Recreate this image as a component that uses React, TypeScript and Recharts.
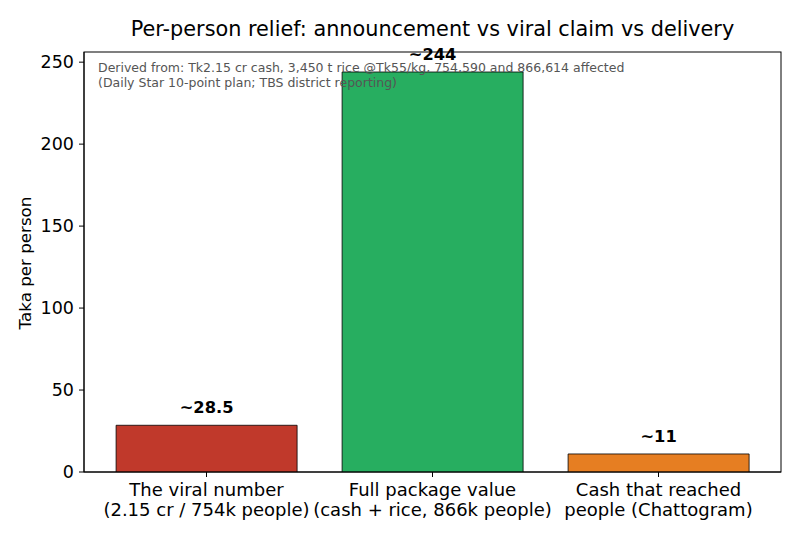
import React from "react";
import * as R from "recharts";
import { BarChart, Bar, XAxis, YAxis, Cell, LabelList } from "recharts";

const categoriesLine1 = ["The viral number", "Full package value", "Cash that reached"];
const categoriesLine2 = ["(2.15 cr / 754k people)", "(cash + rice, 866k people)", "people (Chattogram)"];
const values = [28.5, 244, 11];
const valueLabels = ["~28.5", "~244", "~11"];
const colors = ["#c0392b", "#27ae60", "#e67e22"];
const yTicks = [0, 50, 100, 150, 200, 250];
const Y_MAX = 256.2;

const data = values.map((v, i) => ({ idx: i, value: v }));

const FONT = "DejaVu Sans, sans-serif";

const usePlotAreaHook: any = (R as any).usePlotArea;
const useOffsetHook: any = (R as any).useOffset;

const Frame = () => {
  let x = 0, y = 0, w = 0, h = 0;
  if (usePlotAreaHook) {
    const pa = usePlotAreaHook();
    if (pa) { x = pa.x; y = pa.y; w = pa.width; h = pa.height; }
  } else if (useOffsetHook) {
    const o = useOffsetHook();
    if (o) { x = o.left; y = o.top; w = o.width; h = o.height; }
  }
  if (!w || !h) return null;
  return <rect x={x} y={y} width={w} height={h} fill="none" stroke="#000" strokeWidth={1} />;
};

const XTick = (props: any) => {
  const { x, y, payload } = props;
  const i = payload.value;
  return (
    <text x={x} y={y} textAnchor="middle" fontFamily={FONT} fontSize={18} fill="#000">
      <tspan x={x} dy={17}>{categoriesLine1[i]}</tspan>
      <tspan x={x} dy={19.5}>{categoriesLine2[i]}</tspan>
    </text>
  );
};

const ValueLabel = (props: any) => {
  const { x, y, width, index } = props;
  return (
    <text x={x + width / 2} y={y - 12} textAnchor="middle" fontFamily={FONT} fontSize={16.3} fontWeight="bold" fill="#000">
      {valueLabels[index]}
    </text>
  );
};

export default function App() {
  return (
    <div style={{ position: "absolute", left: 0, top: 0, width: 800, height: 540, background: "#fff" }}>
      <BarChart
        width={800}
        height={540}
        data={data}
        margin={{ top: 52, right: 19, bottom: 0, left: 0 }}
        barCategoryGap="10%"
      >
        <XAxis
          dataKey="idx"
          type="category"
          height={68}
          padding={{ left: 9.5, right: 9.5 }}
          tick={<XTick />}
          tickSize={5}
          tickMargin={2}
          axisLine={{ stroke: "#000" }}
          tickLine={{ stroke: "#000" }}
          interval={0}
        />
        <YAxis
          width={84}
          domain={[0, Y_MAX]}
          ticks={yTicks}
          allowDataOverflow
          tickSize={5}
          tickMargin={5}
          tick={{ fontFamily: FONT, fontSize: 17.5, fill: "#000" }}
          axisLine={{ stroke: "#000" }}
          tickLine={{ stroke: "#000" }}
        />
        <Bar dataKey="value" isAnimationActive={false} stroke="#000" strokeWidth={0.8}>
          {data.map((d, i) => (
            <Cell key={i} fill={colors[i]} />
          ))}
          <LabelList dataKey="value" content={<ValueLabel />} />
        </Bar>
        <Frame />
      </BarChart>
      <svg width={800} height={540} style={{ position: "absolute", left: 0, top: 0, pointerEvents: "none" }}>
        <text x={432.5} y={36} textAnchor="middle" fontFamily={FONT} fontSize={20.8} fill="#000">
          Per-person relief: announcement vs viral claim vs delivery
        </text>
        <text transform="translate(31,263) rotate(-90)" textAnchor="middle" fontFamily={FONT} fontSize={16.7} fill="#000">
          Taka per person
        </text>
        <text x={98} y={71.5} fontFamily={FONT} fontSize={12.5} fill="#555">
          Derived from: Tk2.15 cr cash, 3,450 t rice @Tk55/kg, 754,590 and 866,614 affected
        </text>
        <text x={98} y={86.5} fontFamily={FONT} fontSize={12.5} fill="#555">
          (Daily Star 10-point plan; TBS district reporting)
        </text>
      </svg>
    </div>
  );
}
